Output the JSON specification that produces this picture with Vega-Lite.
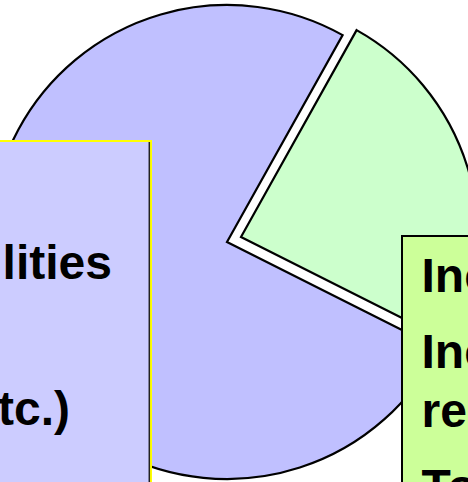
{
  "$schema": "https://vega.github.io/schema/vega-lite/v6.json",
  "width": 468,
  "height": 482,
  "padding": 0,
  "autosize": "none",
  "background": "white",
  "config": {"view": {"stroke": null}},
  "datasets": {
    "slices": [
      {"category": "Share A", "value": 24.3},
      {"category": "Share B", "value": 75.7}
    ],
    "labels": [
      {"id": "l1", "text": "lities"},
      {"id": "l2", "text": "tc.)"},
      {"id": "r1", "text": "Inc"},
      {"id": "r2", "text": "Inc"},
      {"id": "r3", "text": "re"},
      {"id": "r4", "text": "To"}
    ]
  },
  "resolve": {"scale": {"x": "shared", "y": "shared"}},
  "layer": [
    {
      "data": {"name": "slices"},
      "mark": {"type": "arc", "radius": 237, "stroke": "black", "strokeWidth": 2.2},
      "encoding": {
        "x": {"datum": 227, "type": "quantitative", "scale": {"domain": [0, 468], "nice": false, "zero": false}, "axis": null},
        "y": {"datum": 242, "type": "quantitative", "scale": {"domain": [0, 482], "reverse": true, "nice": false, "zero": false}, "axis": null},
        "theta": {"field": "value", "type": "quantitative", "stack": true, "scale": {"range": [0.5096, 6.7928]}},
        "order": {"field": "category", "sort": "ascending"},
        "color": {"field": "category", "type": "nominal", "scale": {"domain": ["Share A", "Share B"], "range": ["#ccffcc", "#c0c0ff"]}, "legend": null},
        "fillOpacity": {"condition": {"test": "datum.category === 'Share B'", "value": 1}, "value": 0},
        "strokeOpacity": {"condition": {"test": "datum.category === 'Share B'", "value": 1}, "value": 0}
      }
    },
    {
      "data": {"name": "slices"},
      "mark": {"type": "arc", "radius": 237, "stroke": "black", "strokeWidth": 2.2},
      "encoding": {
        "x": {"datum": 241, "type": "quantitative"},
        "y": {"datum": 237, "type": "quantitative"},
        "theta": {"field": "value", "type": "quantitative", "stack": true},
        "order": {"field": "category", "sort": "ascending"},
        "color": {"field": "category", "type": "nominal", "legend": null},
        "fillOpacity": {"condition": {"test": "datum.category === 'Share A'", "value": 1}, "value": 0},
        "strokeOpacity": {"condition": {"test": "datum.category === 'Share A'", "value": 1}, "value": 0}
      }
    },
    {
      "data": {"values": [{}]},
      "mark": {"type": "rect", "fill": "#ccccff", "stroke": "#ffff00", "strokeWidth": 2},
      "encoding": {
        "x": {"datum": -10, "type": "quantitative"},
        "x2": {"datum": 151},
        "y": {"datum": 141, "type": "quantitative"},
        "y2": {"datum": 500}
      }
    },
    {
      "data": {"values": [{}]},
      "mark": {"type": "rule", "stroke": "#222222", "strokeWidth": 1.5},
      "encoding": {
        "x": {"datum": 149.3, "type": "quantitative"},
        "y": {"datum": 142, "type": "quantitative"},
        "y2": {"datum": 500}
      }
    },
    {
      "data": {"values": [{}]},
      "mark": {"type": "rect", "fill": "#ccff99", "stroke": "black", "strokeWidth": 2},
      "encoding": {
        "x": {"datum": 402, "type": "quantitative"},
        "x2": {"datum": 520},
        "y": {"datum": 236, "type": "quantitative"},
        "y2": {"datum": 520}
      }
    },
    {
      "data": {"name": "labels"},
      "transform": [{"filter": "datum.id === 'l1'"}],
      "mark": {"type": "text", "align": "right", "baseline": "alphabetic", "font": "Liberation Sans", "fontWeight": "bold", "fontSize": 48, "color": "black"},
      "encoding": {"text": {"field": "text"}, "x": {"datum": 112, "type": "quantitative"}, "y": {"datum": 279, "type": "quantitative"}}
    },
    {
      "data": {"name": "labels"},
      "transform": [{"filter": "datum.id === 'l2'"}],
      "mark": {"type": "text", "align": "right", "baseline": "alphabetic", "font": "Liberation Sans", "fontWeight": "bold", "fontSize": 48, "color": "black"},
      "encoding": {"text": {"field": "text"}, "x": {"datum": 70, "type": "quantitative"}, "y": {"datum": 425, "type": "quantitative"}}
    },
    {
      "data": {"name": "labels"},
      "transform": [{"filter": "datum.id === 'r1'"}],
      "mark": {"type": "text", "align": "left", "baseline": "alphabetic", "font": "Liberation Sans", "fontWeight": "bold", "fontSize": 48, "color": "black"},
      "encoding": {"text": {"field": "text"}, "x": {"datum": 421.5, "type": "quantitative"}, "y": {"datum": 292, "type": "quantitative"}}
    },
    {
      "data": {"name": "labels"},
      "transform": [{"filter": "datum.id === 'r2'"}],
      "mark": {"type": "text", "align": "left", "baseline": "alphabetic", "font": "Liberation Sans", "fontWeight": "bold", "fontSize": 48, "color": "black"},
      "encoding": {"text": {"field": "text"}, "x": {"datum": 421.5, "type": "quantitative"}, "y": {"datum": 368, "type": "quantitative"}}
    },
    {
      "data": {"name": "labels"},
      "transform": [{"filter": "datum.id === 'r3'"}],
      "mark": {"type": "text", "align": "left", "baseline": "alphabetic", "font": "Liberation Sans", "fontWeight": "bold", "fontSize": 48, "color": "black"},
      "encoding": {"text": {"field": "text"}, "x": {"datum": 421.5, "type": "quantitative"}, "y": {"datum": 427, "type": "quantitative"}}
    },
    {
      "data": {"name": "labels"},
      "transform": [{"filter": "datum.id === 'r4'"}],
      "mark": {"type": "text", "align": "left", "baseline": "alphabetic", "font": "Liberation Sans", "fontWeight": "bold", "fontSize": 48, "color": "black"},
      "encoding": {"text": {"field": "text"}, "x": {"datum": 421.5, "type": "quantitative"}, "y": {"datum": 503, "type": "quantitative"}}
    }
  ]
}
